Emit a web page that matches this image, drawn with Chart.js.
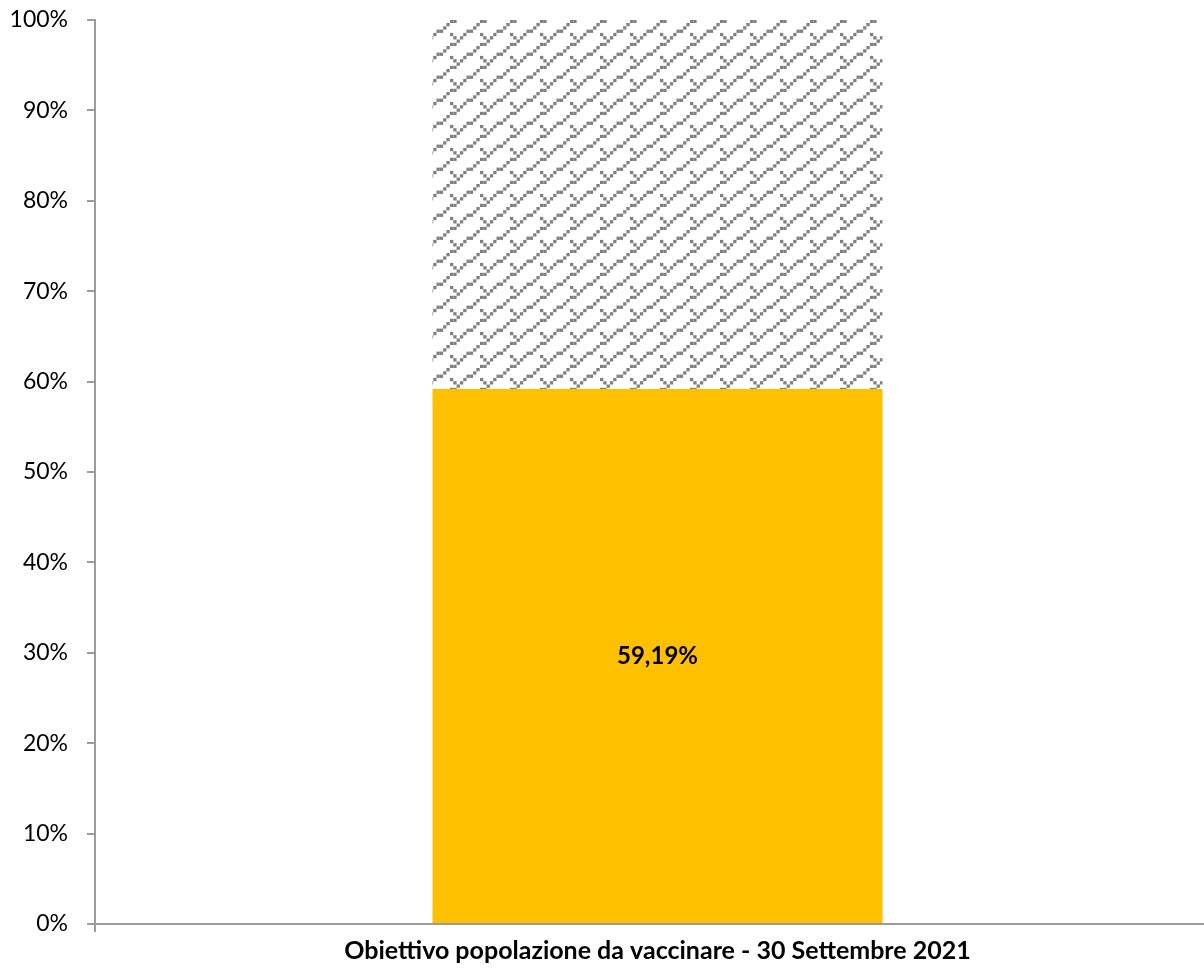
<!DOCTYPE html>
<html>
<head>
<meta charset="utf-8">
<script src="https://cdn.jsdelivr.net/npm/chart.js@4.4.1/dist/chart.umd.min.js"></script>
<style>
  html, body { margin: 0; padding: 0; background: #fff; overflow: hidden; }
  #wrap { width: 1204px; height: 970px; overflow: hidden; position: relative; }
  canvas { display: block; }
</style>
</head>
<body>
<div id="wrap"><canvas id="chart" width="1220" height="970"></canvas></div>
<script>
// Data
const categories = ['Obiettivo popolazione da vaccinare - 30 Settembre 2021'];
const vaccinati = [59.19];
const daVaccinare = [40.81];
const yTickValues = [0, 10, 20, 30, 40, 50, 60, 70, 80, 90, 100];

// Hatch tile: rising diagonal with a short spur, drawn as a small bitmap
function makeHatch(color) {
  const rows = [
    [8], [7], [6, 5], [4, 0], [3, 1], [2], [1, 0]
  ];
  const cell = 3.3;
  const w = Math.round(cell * 9), h = Math.round(cell * rows.length);
  const c = document.createElement('canvas');
  c.width = w; c.height = h;
  const g = c.getContext('2d');
  g.fillStyle = '#ffffff';
  g.fillRect(0, 0, w, h);
  g.fillStyle = color;
  rows.forEach((cols, r) => {
    cols.forEach(x => g.fillRect(x * cell, r * cell, cell, cell));
  });
  return g.createPattern(c, 'repeat');
}

const axisColor = '#9c9c9c';
const fontFamily = 'Lato, "Open Sans", sans-serif';

// Value label drawn in the centre of the filled segment
const valueLabels = {
  id: 'valueLabels',
  afterDatasetsDraw(chart) {
    const ctx = chart.ctx;
    const meta = chart.getDatasetMeta(0);
    ctx.save();
    ctx.font = 'bold 24px ' + fontFamily;
    ctx.fillStyle = '#000';
    ctx.textAlign = 'center';
    ctx.textBaseline = 'middle';
    meta.data.forEach((bar, i) => {
      const v = chart.data.datasets[0].data[i];
      const txt = v.toFixed(2).replace('.', ',') + '%';
      ctx.fillText(txt, bar.x, (bar.y + bar.base) / 2);
    });
    ctx.restore();
  }
};

const ctx = document.getElementById('chart').getContext('2d');
new Chart(ctx, {
  type: 'bar',
  data: {
    labels: categories,
    datasets: [
      {
        label: 'Vaccinati',
        data: vaccinati,
        backgroundColor: '#FFC000',
        borderWidth: 0,
        categoryPercentage: 0.4,
        barPercentage: 1.0
      },
      {
        label: 'Da vaccinare',
        data: daVaccinare,
        backgroundColor: makeHatch('#808080'),
        borderWidth: 0,
        categoryPercentage: 0.4,
        barPercentage: 1.0
      }
    ]
  },
  options: {
    responsive: false,
    animation: false,
    devicePixelRatio: 1,
    layout: { padding: { top: 20, left: 0, right: 0, bottom: 0 } },
    plugins: {
      legend: { display: false },
      tooltip: { enabled: false }
    },
    scales: {
      x: {
        stacked: true,
        afterFit(scale) {
          scale.height = 46;
          scale.paddingLeft = 0;
          scale.paddingRight = 0;
        },
        grid: {
          display: true,
          drawOnChartArea: false,
          drawTicks: true,
          tickLength: 8,
          color: axisColor,
          lineWidth: 2,
          offset: true
        },
        border: { display: true, color: axisColor, width: 2 },
        ticks: {
          color: '#000',
          padding: 4,
          font: { family: fontFamily, size: 25, weight: 'bold' }
        }
      },
      y: {
        stacked: true,
        min: 0,
        max: 100,
        afterFit(scale) {
          scale.width = 95;
          scale.paddingTop = 0;
          scale.paddingBottom = 0;
        },
        afterBuildTicks(scale) {
          scale.ticks = yTickValues.map(v => ({ value: v }));
        },
        grid: {
          display: true,
          drawOnChartArea: false,
          drawTicks: true,
          tickLength: 8,
          color: axisColor,
          lineWidth: 2
        },
        border: { display: true, color: axisColor, width: 2 },
        ticks: {
          color: '#000',
          padding: 19,
          font: { family: fontFamily, size: 23 },
          callback: v => v + '%'
        }
      }
    }
  },
  plugins: [valueLabels]
});
</script>
</body>
</html>
